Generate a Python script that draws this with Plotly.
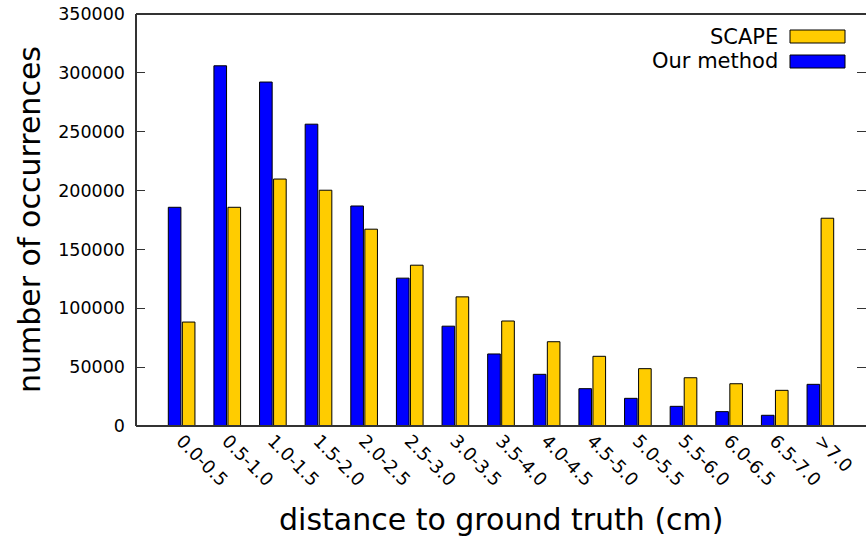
import plotly.graph_objects as go

# Distance bins (cm) and occurrence counts per method
bins = ["0.0-0.5", "0.5-1.0", "1.0-1.5", "1.5-2.0", "2.0-2.5", "2.5-3.0",
        "3.0-3.5", "3.5-4.0", "4.0-4.5", "4.5-5.0", "5.0-5.5", "5.5-6.0",
        "6.0-6.5", "6.5-7.0", ">7.0"]
our_method = [185800, 306000, 292200, 256400, 186900, 125600, 84800, 61200,
              43900, 31700, 23500, 16700, 12200, 9100, 35400]
scape = [88300, 185800, 209800, 200300, 167200, 136600, 109700, 89200,
         71600, 59200, 48700, 41000, 35900, 30300, 176500]
y_ticks = [0, 50000, 100000, 150000, 200000, 250000, 300000, 350000]

FONT = "DejaVu Sans"
BLUE = "#0000ff"
GOLD = "#ffcc00"
AXIS = "#333333"

fig = go.Figure()
fig.add_trace(go.Bar(x=bins, y=our_method, name="Our method",
                     marker=dict(color=BLUE, line=dict(color="#000000", width=1)),
                     showlegend=False))
fig.add_trace(go.Bar(x=bins, y=scape, name="SCAPE",
                     marker=dict(color=GOLD, line=dict(color="#000000", width=1)),
                     showlegend=False))

fig.update_layout(
    width=866, height=538,
    margin=dict(l=136, r=0, t=14, b=112),
    paper_bgcolor="white", plot_bgcolor="white",
    barmode="group", bargap=0.385, bargroupgap=0.1,
    font=dict(family=FONT, size=17, color="black"),
    xaxis=dict(
        type="category", range=[-1, 15], showgrid=False, zeroline=False,
        showline=False, ticks="", tickangle=45,
        tickfont=dict(family=FONT, size=18, color="black"),
    ),
    yaxis=dict(
        range=[0, 350000], tickvals=y_ticks, tickformat="d",
        showgrid=False, zeroline=False, showline=False,
        ticks="inside", ticklen=9, tickwidth=1, tickcolor=AXIS, mirror="ticks",
        ticklabelstandoff=10,
        tickfont=dict(family=FONT, size=17.5, color="black"),
    ),
    shapes=[
        # frame: left, bottom, top
        dict(type="line", xref="paper", yref="paper", x0=0, x1=0, y0=0, y1=1,
             line=dict(color=AXIS, width=2)),
        dict(type="line", xref="paper", yref="paper", x0=0, x1=1, y0=0, y1=0,
             line=dict(color=AXIS, width=2)),
        dict(type="line", xref="paper", yref="paper", x0=0, x1=1, y0=1, y1=1,
             line=dict(color=AXIS, width=2)),
        # legend swatches
        dict(type="rect", xref="paper", yref="paper",
             x0=(790 - 136) / 730, x1=(845 - 136) / 730,
             y0=(426 - 43) / 412, y1=(426 - 30) / 412,
             fillcolor=GOLD, line=dict(color="#000000", width=1)),
        dict(type="rect", xref="paper", yref="paper",
             x0=(790 - 136) / 730, x1=(845 - 136) / 730,
             y0=(426 - 68) / 412, y1=(426 - 55) / 412,
             fillcolor=BLUE, line=dict(color="#000000", width=1)),
    ],
    annotations=[
        dict(text="SCAPE", xref="paper", yref="paper",
             x=(780 - 136) / 730, y=(426 - 37) / 412,
             xanchor="right", yanchor="middle", showarrow=False,
             font=dict(family=FONT, size=21, color="black")),
        dict(text="Our method", xref="paper", yref="paper",
             x=(780 - 136) / 730, y=(426 - 61) / 412,
             xanchor="right", yanchor="middle", showarrow=False,
             font=dict(family=FONT, size=21, color="black")),
        dict(text="distance to ground truth (cm)", xref="paper", yref="paper",
             x=0.5, y=(426 - 519) / 412, xanchor="center", yanchor="middle",
             showarrow=False, font=dict(family=FONT, size=30, color="black")),
        dict(text="number of occurrences", xref="paper", yref="paper",
             x=(29 - 136) / 730, y=0.5, xanchor="center", yanchor="middle",
             textangle=-90, showarrow=False,
             font=dict(family=FONT, size=30, color="black")),
    ],
)

fig.write_html("out.html")
